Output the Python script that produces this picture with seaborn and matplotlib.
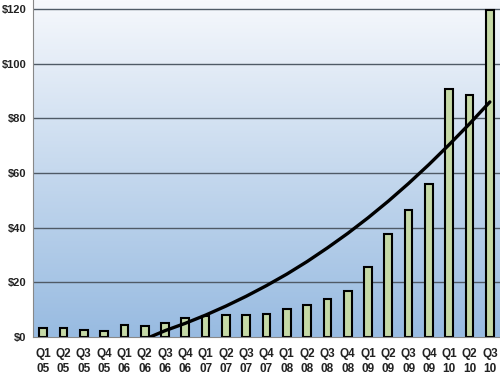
import numpy as np
import pandas as pd
import matplotlib
matplotlib.use("Agg")
import matplotlib.pyplot as plt
from matplotlib.colors import LinearSegmentedColormap
import seaborn as sns

quarters = ["Q1", "Q2", "Q3", "Q4", "Q1", "Q2", "Q3", "Q4", "Q1", "Q2", "Q3", "Q4",
            "Q1", "Q2", "Q3", "Q4", "Q1", "Q2", "Q3", "Q4", "Q1", "Q2", "Q3"]
years = ["05", "05", "05", "05", "06", "06", "06", "06", "07", "07", "07", "07",
         "08", "08", "08", "08", "09", "09", "09", "09", "10", "10", "10"]
values = [3.3, 3.3, 2.4, 2.3, 4.4, 4.1, 5.1, 7.1, 7.8, 8.2, 8.2, 8.4,
          10.1, 11.8, 13.9, 16.8, 25.7, 37.5, 46.3, 55.9, 90.7, 88.6, 119.5]
# trend line (position in category units, value)
trend_x = [5.27, 6, 7, 8, 9, 10, 11, 12, 13, 14, 15, 16, 17, 18, 19, 20, 21, 22]
trend_y = [0, 2.3, 5.0, 8.0, 11.3, 14.9, 18.8, 23.0, 27.6, 32.6, 37.9, 43.6,
           49.7, 56.2, 63.1, 70.4, 78.0, 86.0]
yticks = [0, 20, 40, 60, 80, 100, 120]

labels = [f"{q}\n{y}" for q, y in zip(quarters, years)]
df = pd.DataFrame({"period": labels, "value": values})

sns.set_style("white")
fig = plt.figure(figsize=(5, 3.74), dpi=100)
ax = fig.add_axes([0.066, 0.099, 0.934, 0.901])

# gradient background (white at top -> blue at bottom)
cmap = LinearSegmentedColormap.from_list("bg", ["#98bbe1", "#c6d9ee", "#f6f8fc"])
grad = np.linspace(0, 1, 256).reshape(-1, 1)
ax.imshow(grad, aspect="auto", cmap=cmap, origin="lower",
          extent=[-0.5, 22.5, 0, 123.3], zorder=0)

for t in yticks[1:]:
    ax.axhline(t, color="#4f5a66", lw=1.0, zorder=1)

sns.barplot(data=df, x="period", y="value", color="#c5d9a6", width=0.38,
            edgecolor="black", linewidth=1.5, saturation=1, ax=ax, zorder=2)

sns.lineplot(x=trend_x, y=trend_y, color="black", lw=2.4, ax=ax, zorder=3)

ax.set_xlim(-0.5, 22.5)
ax.set_ylim(0, 123.3)
ax.set_yticks(yticks)
ax.set_yticklabels([f"${t}" for t in yticks], fontweight="bold", fontsize=8,
                   color="#222222", family="Liberation Sans")
ax.set_xticks(np.arange(len(values)))
ax.set_xticklabels(labels, fontweight="bold", fontsize=8.5, color="#222222",
                   family="Liberation Sans", linespacing=1.3)
ax.set_xlabel("")
ax.set_ylabel("")
ax.tick_params(axis="x", length=0, pad=8)
ax.tick_params(axis="y", length=3, color="#888888", pad=1.5)
ax.set_xticks(np.arange(-0.5, 23, 1), minor=True)
ax.tick_params(axis="x", which="minor", length=4, color="#888888", direction="out")

for s in ["top", "right"]:
    ax.spines[s].set_visible(False)
ax.spines["left"].set_color("#888888")
ax.spines["bottom"].set_color("#888888")

fig.savefig("out.png", dpi=100)
